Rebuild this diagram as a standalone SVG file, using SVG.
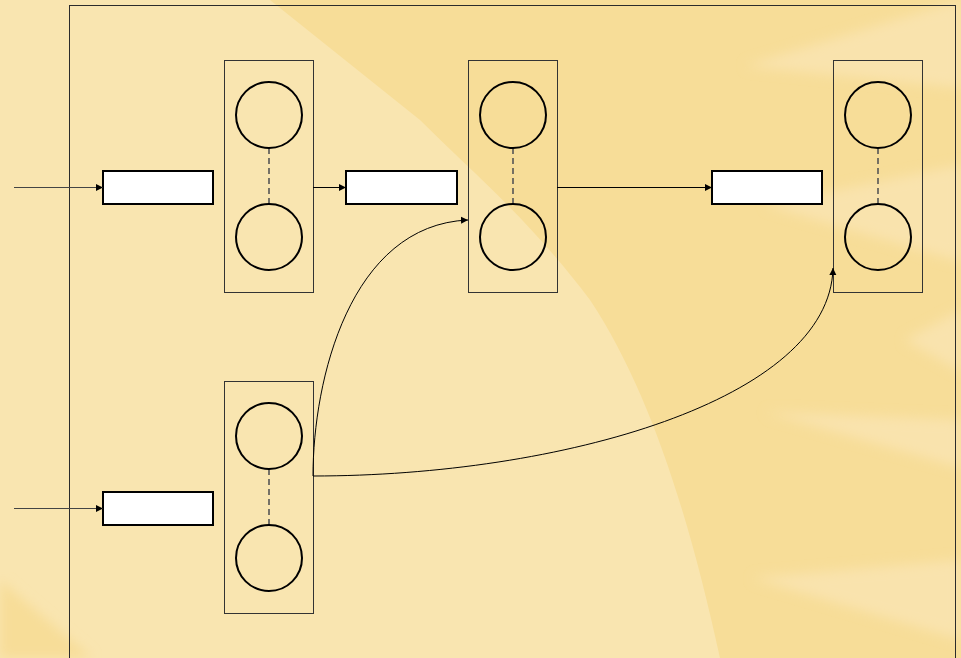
<svg xmlns="http://www.w3.org/2000/svg" width="961" height="658" viewBox="0 0 961 658">
  <style>
    .frame { fill: none; stroke: #2b2b2b; stroke-width: 1; }
    .col { fill: none; stroke: #333333; stroke-width: 1; }
    .cell { fill: none; stroke: #000000; stroke-width: 2; }
    .link { stroke: #555555; stroke-width: 1.6; stroke-dasharray: 6 4; }
    .buf { fill: #ffffff; stroke: #000000; stroke-width: 2; }
    .wire { fill: none; stroke: #000000; stroke-width: 1; }
    .feed { fill: none; stroke: #444444; stroke-width: 1.2; }
  </style>
  <defs>
    <marker id="tri" viewBox="0 0 10 10" refX="10" refY="5" markerWidth="7" markerHeight="9" markerUnits="userSpaceOnUse" orient="auto">
      <path d="M0,0 L10,5 L0,10 Z" fill="#000000"/>
    </marker>
    <filter id="soft" x="-10%" y="-10%" width="120%" height="120%">
      <feGaussianBlur stdDeviation="6"/>
    </filter>
  </defs>

  <!-- sunburst backdrop -->
  <g id="backdrop">
    <rect x="0" y="0" width="961" height="658" fill="#f9e5b0"/>
    <path d="M270,0 L961,0 L961,658 L720,658 C690,520 650,390 590,300 C530,220 470,170 420,120 Z" fill="#f7dd98"/>
    <path d="M0,580 L92,658 L0,658 Z" fill="#f7dd98" filter="url(#soft)"/>
    <g fill="#f9e3ad" filter="url(#soft)">
      <path d="M745,66 L961,0 L961,88 Z"/>
      <path d="M765,205 L961,165 L961,262 Z"/>
      <path d="M905,340 L961,310 L961,372 Z"/>
      <path d="M765,412 L961,420 L961,468 Z"/>
      <path d="M752,578 L961,560 L961,640 Z"/>
    </g>
  </g>

  <!-- outer boundary -->
  <rect id="frame" class="frame" x="69.5" y="5.5" width="886" height="660"/>

  <!-- column A -->
  <g id="colA">
    <rect class="col" x="224.5" y="60.5" width="89" height="232"/>
    <line class="link" x1="269" y1="148" x2="269" y2="204"/>
    <circle class="cell" cx="269" cy="115" r="33"/>
    <circle class="cell" cx="269" cy="237" r="33"/>
  </g>

  <!-- column B -->
  <g id="colB">
    <rect class="col" x="468.5" y="60.5" width="89" height="232"/>
    <line class="link" x1="513" y1="148" x2="513" y2="204"/>
    <circle class="cell" cx="513" cy="115" r="33"/>
    <circle class="cell" cx="513" cy="237" r="33"/>
  </g>

  <!-- column C -->
  <g id="colC">
    <rect class="col" x="833.5" y="60.5" width="89" height="232"/>
    <line class="link" x1="878" y1="148" x2="878" y2="204"/>
    <circle class="cell" cx="878" cy="115" r="33"/>
    <circle class="cell" cx="878" cy="237" r="33"/>
  </g>

  <!-- column D -->
  <g id="colD">
    <rect class="col" x="224.5" y="381.5" width="89" height="232"/>
    <line class="link" x1="269" y1="469" x2="269" y2="525"/>
    <circle class="cell" cx="269" cy="436" r="33"/>
    <circle class="cell" cx="269" cy="558" r="33"/>
  </g>

  <!-- buffers -->
  <g id="buf1"><rect class="buf" x="103" y="171" width="110" height="33"/></g>
  <g id="buf2"><rect class="buf" x="346" y="171" width="111" height="33"/></g>
  <g id="buf3"><rect class="buf" x="712" y="171" width="110" height="33"/></g>
  <g id="buf4"><rect class="buf" x="103" y="492" width="110" height="33"/></g>

  <!-- connectors -->
  <g id="connectors">
    <line class="feed" x1="14" y1="187.5" x2="103" y2="187.5" marker-end="url(#tri)"/>
    <line class="feed" x1="14" y1="508.5" x2="103" y2="508.5" marker-end="url(#tri)"/>
    <line class="wire" x1="313" y1="187.5" x2="346" y2="187.5" marker-end="url(#tri)"/>
    <line class="wire" x1="557" y1="187.5" x2="712" y2="187.5" marker-end="url(#tri)"/>
    <path class="wire" d="M313,476 C313,380 350,225 468,220" marker-end="url(#tri)"/>
    <path class="wire" d="M313,476 C560,476 830,400 833,268" marker-end="url(#tri)"/>
  </g>
</svg>
